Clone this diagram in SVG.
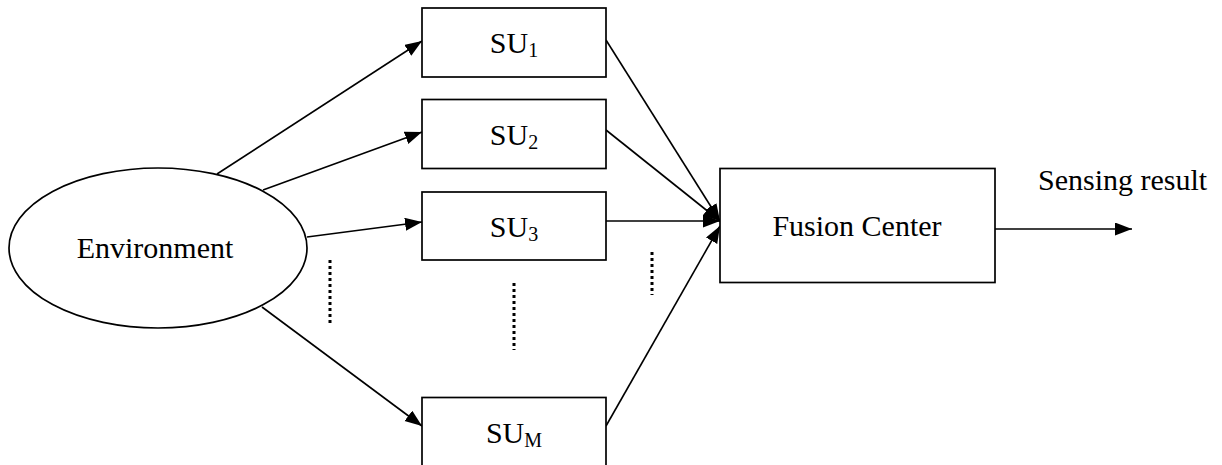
<svg xmlns="http://www.w3.org/2000/svg" width="1222" height="465" viewBox="0 0 1222 465">
<defs>
<style>
.box{fill:#fff;stroke:#000;stroke-width:1.7}
.ln{fill:none;stroke:#000;stroke-width:1.6}
.dot{fill:none;stroke:#000;stroke-width:3;stroke-dasharray:3 3}
text{font-family:"Liberation Serif","Times New Roman",serif;font-size:30px;fill:#000}
.c{text-anchor:middle}
.sub{font-size:20px}
</style>
<marker id="ah" markerUnits="userSpaceOnUse" markerWidth="18" markerHeight="14" refX="17" refY="6.5" orient="auto">
<path d="M0,0 L17,6.5 L0,13 Z" fill="#000"/>
</marker>
</defs>
<rect width="1222" height="465" fill="#fff"/>
<g id="connectors">
<line class="ln" x1="217" y1="174" x2="422" y2="41" marker-end="url(#ah)"/>
<line class="ln" x1="263" y1="190" x2="422" y2="132" marker-end="url(#ah)"/>
<line class="ln" x1="307" y1="237" x2="422" y2="222" marker-end="url(#ah)"/>
<line class="ln" x1="262" y1="307" x2="422" y2="426" marker-end="url(#ah)"/>
<line class="ln" x1="606" y1="40" x2="720" y2="221" marker-end="url(#ah)"/>
<line class="ln" x1="606" y1="130" x2="720" y2="221" marker-end="url(#ah)"/>
<line class="ln" x1="606" y1="221" x2="720" y2="221" marker-end="url(#ah)"/>
<line class="ln" x1="606" y1="426" x2="720" y2="226" marker-end="url(#ah)"/>
<line class="ln" x1="995" y1="229" x2="1132" y2="229" marker-end="url(#ah)"/>
<line class="dot" x1="330" y1="260" x2="330" y2="325"/>
<line class="dot" x1="514" y1="283" x2="514" y2="350"/>
<line class="dot" x1="652" y1="252" x2="652" y2="295"/>
</g>
<g id="environment">
<ellipse class="box" cx="158" cy="248" rx="149" ry="80"/>
<text class="c" x="155" y="258">Environment</text>
</g>
<g id="su1">
<rect class="box" x="422" y="8" width="184" height="69"/>
<text class="c" x="514" y="53">SU<tspan class="sub" dy="4">1</tspan></text>
</g>
<g id="su2">
<rect class="box" x="422" y="99.5" width="184" height="69"/>
<text class="c" x="514" y="145">SU<tspan class="sub" dy="4">2</tspan></text>
</g>
<g id="su3">
<rect class="box" x="422" y="192" width="184" height="68"/>
<text class="c" x="514" y="237">SU<tspan class="sub" dy="4">3</tspan></text>
</g>
<g id="sum">
<rect class="box" x="422" y="397.5" width="184" height="69"/>
<text class="c" x="514" y="443">SU<tspan class="sub" dy="4">M</tspan></text>
</g>
<g id="fusion">
<rect class="box" x="720" y="168.5" width="275" height="114"/>
<text class="c" x="857" y="236">Fusion Center</text>
</g>
<g id="result">
<text x="1038" y="190">Sensing result</text>
</g>
</svg>
